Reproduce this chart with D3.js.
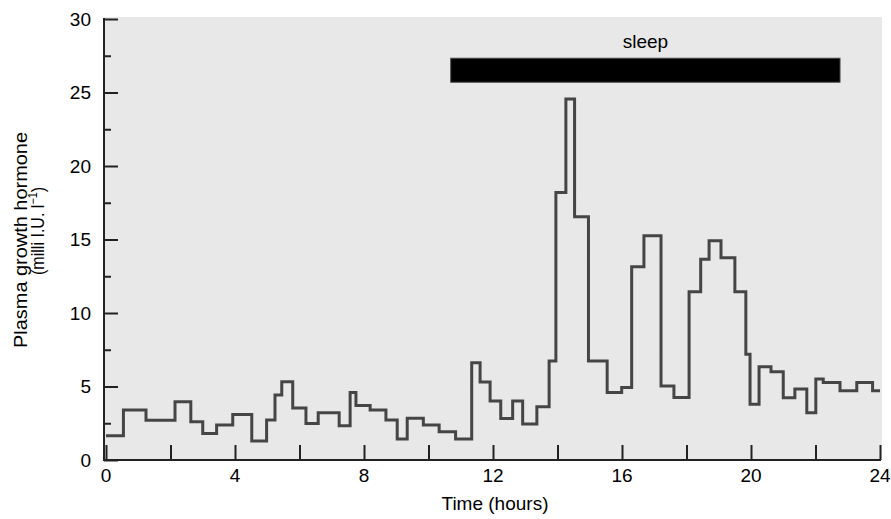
<!DOCTYPE html>
<html>
<head>
<meta charset="utf-8">
<script src="https://cdn.jsdelivr.net/npm/d3@7"></script>
<style>
  html, body { margin: 0; padding: 0; background: #ffffff; }
  svg { display: block; }
  text { font-family: "Liberation Sans", Arial, sans-serif; fill: #000; }
</style>
</head>
<body>
<svg id="chart" width="891" height="519"></svg>
<script>
// ---- data ----
const stepStartHours = [0, 0.54, 1.24, 2.14, 2.63, 3.00, 3.43, 3.93, 4.52, 4.98, 5.24, 5.45, 5.79, 6.20, 6.58, 7.23, 7.57, 7.75, 8.19, 8.68, 9.03, 9.34, 9.84, 10.33, 10.84, 11.34, 11.60, 11.91, 12.24, 12.61, 12.92, 13.36, 13.74, 13.95, 14.26, 14.53, 14.96, 15.54, 15.99, 16.30, 16.68, 17.21, 17.61, 18.08, 18.44, 18.70, 19.07, 19.50, 19.84, 19.97, 20.25, 20.62, 21.00, 21.36, 21.73, 22.01, 22.24, 22.76, 23.28, 23.77];
const hormoneLevels = [1.65, 3.4, 2.7, 3.97, 2.6, 1.8, 2.38, 3.1, 1.3, 2.72, 4.42, 5.33, 3.53, 2.49, 3.22, 2.33, 4.6, 3.7, 3.4, 2.72, 1.43, 2.84, 2.38, 1.93, 1.43, 6.62, 5.3, 4.01, 2.83, 4.01, 2.45, 3.63, 6.73, 18.2, 24.56, 16.55, 6.73, 4.6, 4.94, 13.15, 15.26, 5.03, 4.26, 11.45, 13.65, 14.92, 13.76, 11.45, 7.19, 3.79, 6.35, 6.01, 4.24, 4.83, 3.22, 5.51, 5.28, 4.71, 5.28, 4.71];
const endHour = 24;
const xTickLabels = [0, 4, 8, 12, 16, 20, 24];
const xTickMarks = [0, 2, 4, 6, 8, 10, 12, 14, 16, 18, 20, 22, 24];
const yTickLabels = [0, 5, 10, 15, 20, 25, 30];
const yMinorTicks = [2.5, 7.5, 12.5, 17.5, 22.5, 27.5];
const sleepPeriod = [10.69, 22.76];
const sleepBand = [25.7, 27.33];
const sleepLabel = "sleep";
const xTitle = "Time (hours)";
const yTitle1 = "Plasma growth hormone";
const yTitle2 = "(milli I.U. l";
const yTitleSup = "−1";

// ---- layout ----
const svg = d3.select("#chart");
const x = d3.scaleLinear().domain([0, 24]).range([106, 880]);
const y = d3.scaleLinear().domain([0, 30]).range([460, 19]);

// plot background
svg.append("rect")
  .attr("x", 104).attr("y", 17)
  .attr("width", 882 - 104).attr("height", 460 - 17)
  .attr("fill", "#e8e8e8");

// step series
const pts = stepStartHours.map((t, i) => [t, hormoneLevels[i]]);
pts.push([endHour, hormoneLevels[hormoneLevels.length - 1]]);
const line = d3.line().x(d => x(d[0])).y(d => y(d[1])).curve(d3.curveStepAfter);
svg.append("path")
  .attr("d", line(pts))
  .attr("fill", "none")
  .attr("stroke", "#454545")
  .attr("stroke-width", 3)
  .attr("stroke-linejoin", "miter");

// sleep bar
svg.append("rect")
  .attr("x", x(sleepPeriod[0]))
  .attr("y", y(sleepBand[1]))
  .attr("width", x(sleepPeriod[1]) - x(sleepPeriod[0]))
  .attr("height", y(sleepBand[0]) - y(sleepBand[1]))
  .attr("fill", "#000")
  .attr("stroke", "#444").attr("stroke-width", 1);
svg.append("text")
  .attr("x", (x(sleepPeriod[0]) + x(sleepPeriod[1])) / 2)
  .attr("y", 48)
  .attr("text-anchor", "middle")
  .attr("font-size", 19)
  .text(sleepLabel);

// y axis (ticks inward)
const axisColor = "#222";
const yAxisMajor = d3.axisRight(y).tickValues(yTickLabels).tickSize(14).tickFormat("");
const yAxisMinor = d3.axisRight(y).tickValues(yMinorTicks).tickSize(7).tickFormat("");
const gy = svg.append("g").attr("transform", "translate(104,0)").call(yAxisMajor);
const gy2 = svg.append("g").attr("transform", "translate(104,0)").call(yAxisMinor);
[gy, gy2].forEach(g => {
  g.select(".domain").remove();
  g.selectAll(".tick line").attr("stroke", axisColor).attr("stroke-width", 2);
});
svg.append("line")
  .attr("x1", 104).attr("x2", 104)
  .attr("y1", y(30) - 1).attr("y2", y(0) + 1)
  .attr("stroke", axisColor).attr("stroke-width", 2);

svg.append("g").selectAll("text")
  .data(yTickLabels).join("text")
  .attr("x", 91)
  .attr("y", d => y(d))
  .attr("dy", "0.36em")
  .attr("text-anchor", "end")
  .attr("font-size", 19)
  .text(d => d);

// x axis (ticks inward)
const xAxis = d3.axisTop(x).tickValues(xTickMarks).tickSize(15).tickFormat("");
const gx = svg.append("g").attr("transform", "translate(0,460)").call(xAxis);
gx.select(".domain").remove();
gx.selectAll(".tick line").attr("stroke", axisColor).attr("stroke-width", 2);
svg.append("line")
  .attr("x1", 103).attr("x2", 881)
  .attr("y1", 460).attr("y2", 460)
  .attr("stroke", axisColor).attr("stroke-width", 2);

svg.append("g").selectAll("text")
  .data(xTickLabels).join("text")
  .attr("x", d => x(d))
  .attr("y", 482)
  .attr("text-anchor", "middle")
  .attr("font-size", 19)
  .text(d => d);

svg.append("text")
  .attr("x", 495).attr("y", 510)
  .attr("text-anchor", "middle")
  .attr("font-size", 19)
  .text(xTitle);

// y title (rotated, two lines)
svg.append("text")
  .attr("transform", "translate(27,240) rotate(-90)")
  .attr("text-anchor", "middle")
  .attr("font-size", 19)
  .attr("textLength", 216)
  .attr("lengthAdjust", "spacingAndGlyphs")
  .text(yTitle1);
const t2 = svg.append("text")
  .attr("transform", "translate(44,231) rotate(-90)")
  .attr("text-anchor", "middle")
  .attr("font-size", 18)
  .attr("textLength", 88)
  .attr("lengthAdjust", "spacingAndGlyphs");
t2.append("tspan").text(yTitle2);
t2.append("tspan").attr("dy", -7).attr("font-size", 12).text(yTitleSup);
t2.append("tspan").attr("dy", 7).text(")");
</script>
</body>
</html>
